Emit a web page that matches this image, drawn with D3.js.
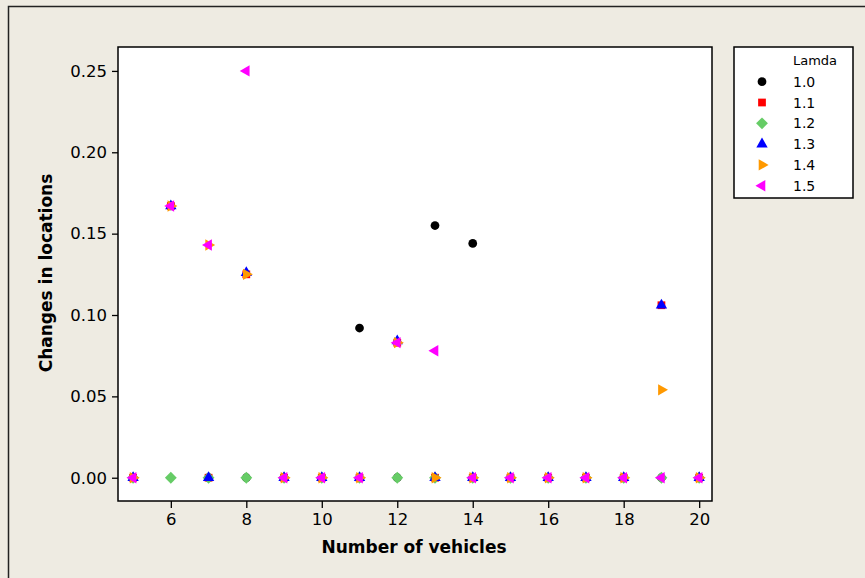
<!DOCTYPE html>
<html><head><meta charset="utf-8">
<script src="https://cdn.jsdelivr.net/npm/d3@7"></script>
<style>html,body{margin:0;padding:0;background:#EEEBE2;}svg{display:block;}</style>
</head><body>
<script>
const vehicles = [5,6,7,8,9,10,11,12,13,14,15,16,17,18,19,20];
const lamda10 = [0,0.167,0,0,0,0,0.092,0,0.155,0.144,0,0,0,0,0,0];
const lamda11 = [0,0.167,0,0.125,0,0,0,0.083,0,0,0,0,0,0,0.106,0];
const lamda12 = [0,0,0,0,0,0,0,0,0,0,0,0,0,0,0,0];
const lamda13 = [0,0.167,0,0.126,0,0,0,0.084,0,0,0,0,0,0,0.106,0];
const lamda14 = [0,0.167,0.143,0.125,0,0,0,0.083,0,0,0,0,0,0,0.054,0];
const lamda15 = [0,0.167,0.143,0.25,0,0,0,0.083,0.078,0,0,0,0,0,0,0];
const seriesNames = ["1.0","1.1","1.2","1.3","1.4","1.5"];
const seriesValues = [lamda10,lamda11,lamda12,lamda13,lamda14,lamda15];
const xTicks = [6,8,10,12,14,16,18,20];
const yTicks = [0,0.05,0.10,0.15,0.20,0.25];

const colors = ["#000000","#FF0000","#66CC66","#0000FF","#FF9900","#FF00FF"];
const shapes = [
  {t:d3.symbolCircle, s:60, r:0},
  {t:d3.symbolSquare, s:60, r:0},
  {t:d3.symbolSquare, s:70, r:45},
  {t:d3.symbolTriangle, s:56, r:0},
  {t:d3.symbolTriangle, s:56, r:90},
  {t:d3.symbolTriangle, s:56, r:-90}
];

const W=865,H=578;
const svg=d3.select("body").append("svg").attr("width",W).attr("height",H);
svg.append("rect").attr("x",0).attr("y",0).attr("width",W).attr("height",H).attr("fill","#EEEBE2");
svg.append("rect").attr("x",8.5).attr("y",6.5).attr("width",900).attr("height",700)
  .attr("fill","none").attr("stroke","#222").attr("stroke-width",1.5);

const L=118,R=712,T=47,B=501;
const x=d3.scaleLinear().domain([4.6,20.34]).range([L,R]);
const y=d3.scaleLinear().domain([-0.0143,0.2647]).range([B,T]);

svg.append("rect").attr("x",L).attr("y",T).attr("width",R-L).attr("height",B-T)
  .attr("fill","#fff");

const font="'DejaVu Sans', Verdana, sans-serif";
const xAxis=svg.append("g").attr("transform",`translate(0,${B})`)
  .call(d3.axisBottom(x).tickValues(xTicks).tickFormat(d3.format("d")).tickSize(7).tickPadding(5));
const yAxis=svg.append("g").attr("transform",`translate(${L},0)`)
  .call(d3.axisLeft(y).tickValues(yTicks).tickFormat(d3.format(".2f")).tickSize(6).tickPadding(5));
[xAxis,yAxis].forEach(g=>{
  g.select(".domain").remove();
  g.selectAll(".tick line").attr("stroke","#000").attr("stroke-width",1.3);
  g.selectAll(".tick text").attr("fill","#000").style("font-family",font).style("font-size","16.5px");
});

svg.append("rect").attr("x",L).attr("y",T).attr("width",R-L).attr("height",B-T)
  .attr("fill","none").attr("stroke","#000").attr("stroke-width",1.5);

const sym=(i)=>d3.symbol().type(shapes[i].t).size(shapes[i].s)();
seriesValues.forEach((vals,i)=>{
  svg.append("g").selectAll("path").data(vals.map((v,k)=>({x:vehicles[k],y:v})))
    .join("path")
    .attr("d",sym(i))
    .attr("transform",d=>`translate(${x(d.x)},${y(d.y)}) rotate(${shapes[i].r})`)
    .attr("fill",colors[i]);
});

svg.append("text").attr("x",(323+505)/2).attr("y",553).attr("text-anchor","middle")
  .style("font-family",font).style("font-weight","bold").style("font-size","17px")
  .text("Number of vehicles");
svg.append("text").attr("transform","translate(52,273) rotate(-90)").attr("text-anchor","middle")
  .style("font-family",font).style("font-weight","bold").style("font-size","17px")
  .text("Changes in locations");

// legend
const lg=svg.append("g");
lg.append("rect").attr("x",734).attr("y",47).attr("width",119).attr("height",151)
  .attr("fill","#fff").attr("stroke","#000").attr("stroke-width",1.5);
lg.append("text").attr("x",793).attr("y",65).style("font-family",font).style("font-size","13px").text("Lamda");
seriesNames.forEach((n,i)=>{
  const yy=81.7+i*20.8;
  lg.append("path").attr("d",sym(i)).attr("transform",`translate(762,${yy}) rotate(${shapes[i].r})`).attr("fill",colors[i]);
  lg.append("text").attr("x",793).attr("y",yy+5).style("font-family",font).style("font-size","14px").text(n);
});
</script>
</body></html>
